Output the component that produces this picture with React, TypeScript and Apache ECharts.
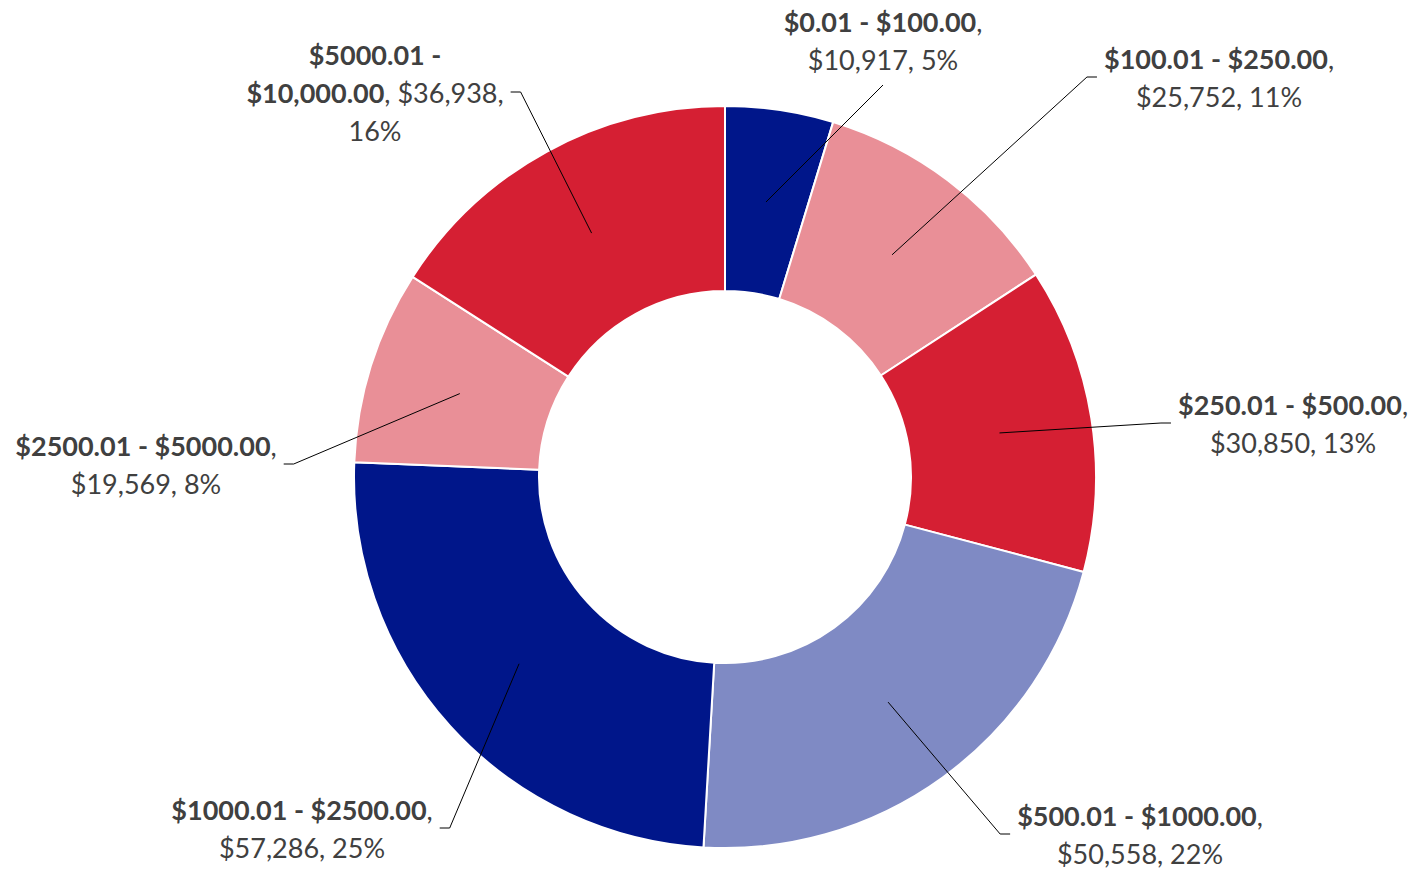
import React, { useEffect, useRef } from "react";
import * as echarts from "echarts";

const categories = [
  "$0.01 - $100.00",
  "$100.01 - $250.00",
  "$250.01 - $500.00",
  "$500.01 - $1000.00",
  "$1000.01 - $2500.00",
  "$2500.01 - $5000.00",
  "$5000.01 - $10,000.00",
];
const amounts = [10917, 25752, 30850, 50558, 57286, 19569, 36938];
const sliceColors = ["#00168A", "#E98F97", "#D51F33", "#7F8AC4", "#00168A", "#E98F97", "#D51F33"];

// label placement (layout only)
const labelCenters: number[][] = [
  [883, 40],
  [1219, 77],
  [1293, 423],
  [1140, 834],
  [302, 828],
  [146, 464],
  [375, 92],
];
const labelSides = ["bottom", "left", "left", "left", "right", "right", "right"];

const CENTER = [725, 477];
const FONT = "Lato, 'Open Sans', sans-serif";
const TEXT_COLOR = "#404040";

export default function App() {
  const ref = useRef<HTMLDivElement>(null);
  useEffect(() => {
    if (!ref.current) return;
    const chart = echarts.init(ref.current, undefined, { renderer: "svg" });
    const makeData = () => categories.map((c, i) => ({ name: c, value: amounts[i] }));
    const fmtLabel = (p: any) => {
      const v = "$" + Number(p.value).toLocaleString("en-US");
      const pct = Math.round(p.percent) + "%";
      if (p.dataIndex === 6) {
        const parts = String(p.name).split(" - ");
        return `{b|${parts[0]} -}\n{b|${parts[1]}}{n|, ${v},}\n{n|${pct}}`;
      }
      return `{b|${p.name}}{n|,}\n{n|${v}, ${pct}}`;
    };
    const GAP = 7;
    const TICK = 10;
    chart.setOption({
      animation: false,
      color: sliceColors,
      series: [
        {
          type: "pie",
          z: 2,
          center: CENTER,
          radius: [186, 371],
          startAngle: 90,
          clockwise: true,
          silent: true,
          avoidLabelOverlap: false,
          label: { show: false },
          labelLine: { show: false },
          itemStyle: { borderColor: "#ffffff", borderWidth: 2 },
          data: makeData(),
        },
        {
          type: "pie",
          z: 5,
          center: CENTER,
          radius: [0, 278],
          startAngle: 90,
          clockwise: true,
          silent: true,
          avoidLabelOverlap: false,
          itemStyle: { color: "rgba(0,0,0,0)", borderWidth: 0 },
          label: {
            show: true,
            position: "outside",
            formatter: fmtLabel,
            align: "center",
            color: TEXT_COLOR,
            fontFamily: FONT,
            fontSize: 27,
            lineHeight: 38,
            rich: {
              b: { fontWeight: "bold", fontSize: 27, lineHeight: 38, color: TEXT_COLOR, fontFamily: FONT, align: "center" },
              n: { fontWeight: "normal", fontSize: 27, lineHeight: 38, color: TEXT_COLOR, fontFamily: FONT, align: "center" },
            },
          },
          labelLine: {
            show: true,
            length: 10,
            length2: 10,
            smooth: false,
            lineStyle: { color: "#000000", width: 1 },
          },
          labelLayout: (params: any) => {
            const i = params.dataIndex;
            const [cx, cy] = labelCenters[i];
            const w = params.labelRect.width;
            const h = params.labelRect.height;
            const pts = params.labelLinePoints;
            const anchor = pts && pts[0] ? pts[0] : [cx, cy];
            let linePts: number[][];
            const side = labelSides[i];
            if (side === "bottom") {
              const e = [cx, cy + h / 2 + GAP];
              linePts = [anchor, e, e];
            } else if (side === "left") {
              const e = [cx - w / 2 - GAP, cy];
              linePts = [anchor, [e[0] - TICK, cy], e];
            } else {
              const e = [cx + w / 2 + GAP, cy];
              linePts = [anchor, [e[0] + TICK, cy], e];
            }
            return {
              x: cx,
              y: cy,
              align: "center",
              verticalAlign: "middle",
              labelLinePoints: linePts,
            };
          },
          data: makeData(),
        },
      ],
    });
    return () => chart.dispose();
  }, []);
  return (
    <div
      ref={ref}
      style={{ position: "absolute", left: 0, top: 0, width: 1418, height: 869, background: "#ffffff" }}
    />
  );
}
